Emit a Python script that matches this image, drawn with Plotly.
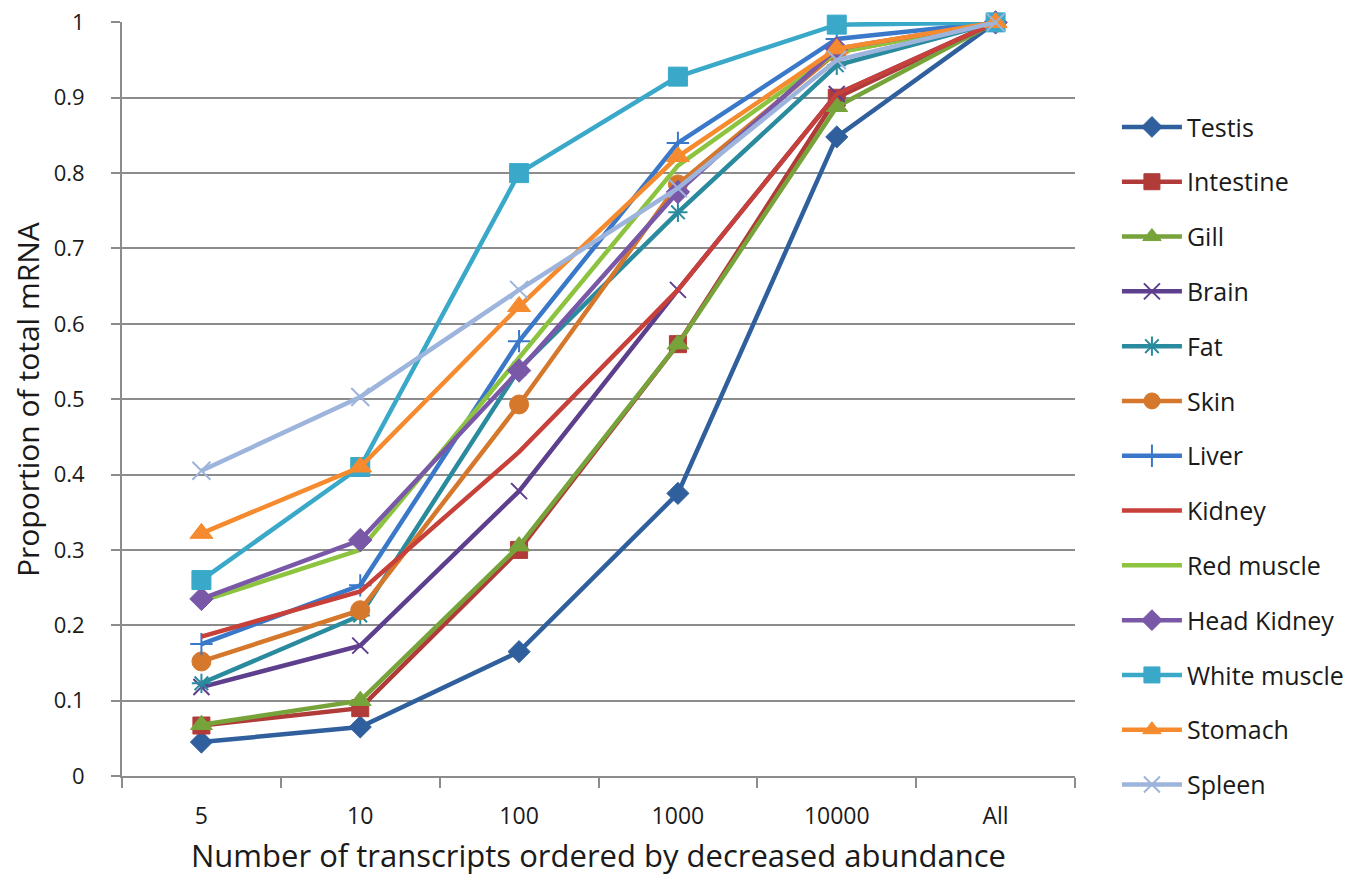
import plotly.graph_objects as go

categories = ["5", "10", "100", "1000", "10000", "All"]

testis       = [0.045, 0.065, 0.165, 0.375, 0.848, 1.0]
intestine    = [0.067, 0.090, 0.300, 0.573, 0.900, 1.0]
gill         = [0.068, 0.100, 0.305, 0.573, 0.888, 1.0]
brain        = [0.118, 0.173, 0.378, 0.645, 0.905, 1.0]
fat          = [0.123, 0.213, 0.540, 0.748, 0.943, 1.0]
skin         = [0.152, 0.220, 0.493, 0.785, 0.960, 1.0]
liver        = [0.175, 0.253, 0.577, 0.840, 0.978, 1.0]
kidney       = [0.185, 0.245, 0.430, 0.645, 0.905, 1.0]
red_muscle   = [0.232, 0.300, 0.555, 0.810, 0.960, 1.0]
head_kidney  = [0.235, 0.313, 0.538, 0.775, 0.965, 1.0]
white_muscle = [0.260, 0.410, 0.800, 0.928, 0.997, 1.0]
stomach      = [0.322, 0.410, 0.623, 0.822, 0.965, 1.0]
spleen       = [0.405, 0.503, 0.645, 0.780, 0.950, 1.0]

series = [
    ("Testis", testis, "#2F5F9C", "diamond", 17),
    ("Intestine", intestine, "#B03B38", "square", 17),
    ("Gill", gill, "#77A33B", "triangle-up", 19),
    ("Brain", brain, "#5E3F8E", "x-thin-open", 16),
    ("Fat", fat, "#2A8A9E", "asterisk-open", 16),
    ("Skin", skin, "#D5782C", "circle", 19),
    ("Liver", liver, "#3A78C9", "cross-thin-open", 16),
    ("Kidney", kidney, "#C8403A", None, 0),
    ("Red muscle", red_muscle, "#8CC43F", None, 0),
    ("Head Kidney", head_kidney, "#7A58A8", "diamond", 18),
    ("White muscle", white_muscle, "#3AA9C9", "square", 19),
    ("Stomach", stomach, "#F58B2E", "triangle-up", 20),
    ("Spleen", spleen, "#9DB4DC", "x-thin-open", 18),
]

fig = go.Figure()
for i, (name, vals, color, sym, size) in enumerate(series):
    if sym is None:
        mode = "lines"
        marker = dict()
    else:
        mode = "lines+markers"
        if "open" in sym:
            marker = dict(symbol=sym, size=size, color=color,
                          line=dict(color=color, width=2))
        else:
            marker = dict(symbol=sym, size=size, color=color,
                          line=dict(color=color, width=1))
    fig.add_trace(go.Scatter(
        x=categories, y=vals, name=name, mode=mode,
        line=dict(color=color, width=4.5), marker=marker,
        legendgroup=f"g{i}", cliponaxis=False,
    ))

fig.update_layout(
    width=1365, height=884,
    margin=dict(l=114, r=298, t=14, b=116),
    paper_bgcolor="white", plot_bgcolor="white",
    font=dict(family="Open Sans, Noto Sans, sans-serif", color="#1a1a1a", size=22),
    showlegend=True,
    legend=dict(
        x=1.044, xanchor="left", y=0.891, yanchor="top",
        font=dict(size=25, color="#1a1a1a"),
        traceorder="grouped", tracegroupgap=19.3, itemwidth=60,
        bgcolor="rgba(0,0,0,0)",
    ),
    xaxis=dict(
        type="category", categoryorder="array", categoryarray=categories,
        range=[-0.5, 5.5], autorange=False,
        showgrid=False, showline=True, linecolor="#8C8C8C", linewidth=2,
        ticks="outside", tickson="boundaries", ticklen=10, tickcolor="#8C8C8C",
        tickwidth=1.5, tickfont=dict(size=23), ticklabelstandoff=18, automargin=False,
    ),
    yaxis=dict(
        range=[0, 1.0005], tickvals=[0, 0.1, 0.2, 0.3, 0.4, 0.5, 0.6, 0.7, 0.8, 0.9, 1],
        ticktext=["0", "0.1", "0.2", "0.3", "0.4", "0.5", "0.6", "0.7", "0.8", "0.9", "1"],
        showgrid=True, gridcolor="#8C8C8C", gridwidth=2,
        showline=True, linecolor="#8C8C8C", linewidth=2,
        ticks="outside", ticklen=9, tickcolor="#8C8C8C", tickwidth=1.5,
        zeroline=False, tickfont=dict(size=22), ticklabelstandoff=22,
        ticklabeloverflow="allow", automargin=False,
    ),
    annotations=[
        dict(text="Number of transcripts ordered by decreased abundance",
             xref="paper", yref="paper", x=0.5, y=-0.105, yanchor="middle",
             xanchor="center", showarrow=False, font=dict(size=31, color="#1a1a1a")),
        dict(text="Proportion of total mRNA", textangle=-90,
             xref="paper", yref="paper", x=-0.0997, y=0.5, xanchor="center",
             yanchor="middle", showarrow=False, font=dict(size=30, color="#1a1a1a")),
    ],
)

fig.write_html("out.html")
